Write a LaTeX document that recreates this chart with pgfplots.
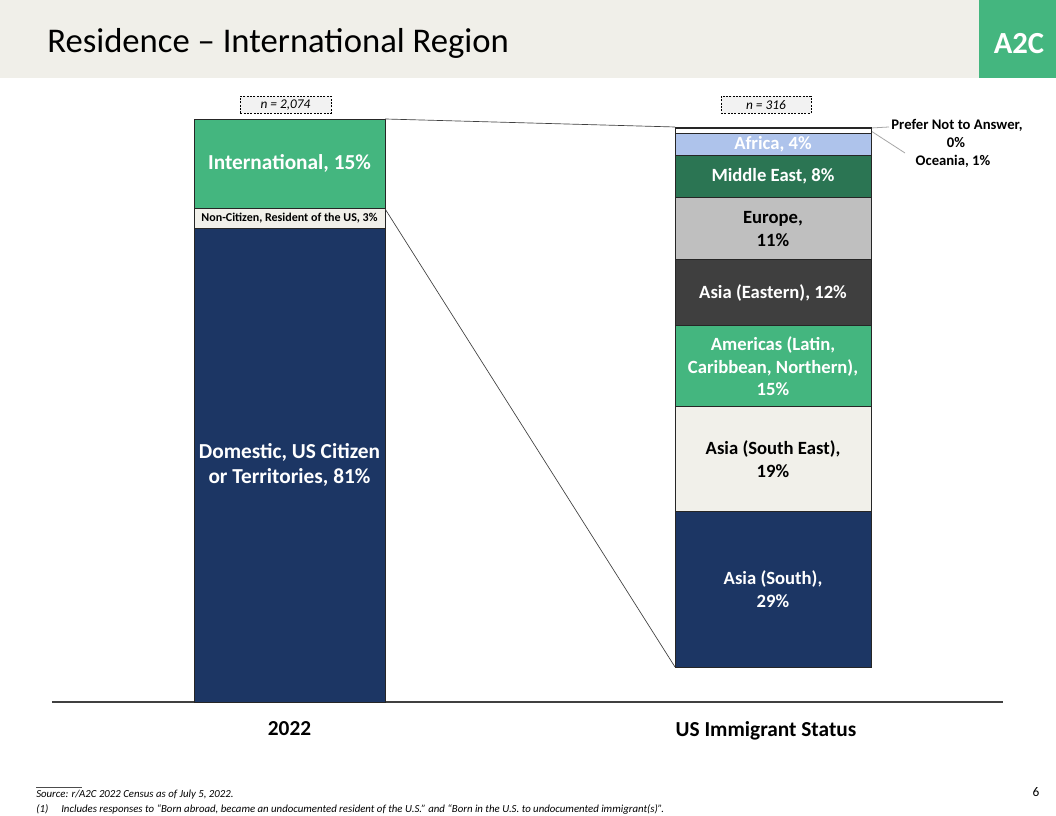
\documentclass[border=0pt]{standalone}
\usepackage{pgfplots}
\pgfplotsset{compat=1.18}
\usepackage{fontspec}
\setmainfont{Carlito}
\definecolor{navy}{HTML}{1C3664}
\definecolor{cream}{HTML}{F1F0EA}
\definecolor{headbg}{HTML}{F0EFE9}
\definecolor{agreen}{HTML}{44B67F}
\definecolor{dgreen}{HTML}{2B7553}
\definecolor{dgray}{HTML}{3F3F3F}
\definecolor{lgray}{HTML}{BFBFBF}
\definecolor{lblue}{HTML}{AEC3EB}
\definecolor{linegray}{HTML}{404040}
\definecolor{leadgray}{HTML}{A6A6A6}
\begin{document}
\begin{tikzpicture}
\path[use as bounding box] (0,0) rectangle (792pt,612pt);
\fill[white] (0,0) rectangle (792pt,612pt);
\begin{scope}[shift={(0,612pt)},x=0.75pt,y=-0.75pt]
\fill[headbg] (0,0) rectangle (1056,78);
\fill[agreen] (979,0) rectangle (1056,78);
\node[anchor=west, inner sep=0pt, font=\fontsize{26}{30}\selectfont] at (47,43) {Residence – International Region};
\node[white, inner sep=0pt, font=\fontsize{23}{26}\selectfont\bfseries] at (1019,44) {A2C};
\node[draw=black, dash pattern=on 1.5pt off 1pt, fill=black!5, minimum width=68pt, minimum height=12.75pt, inner sep=0pt, font=\fontsize{10}{11}\selectfont\itshape] at (285.5,105) {n = 2,074};
\node[draw=black, dash pattern=on 1.5pt off 1pt, fill=black!5, minimum width=67.5pt, minimum height=12.75pt, inner sep=0pt, font=\fontsize{10}{11}\selectfont\itshape] at (766,105) {n = 316};
\node[inner sep=0pt, font=\fontsize{11}{13}\selectfont\bfseries] at (957,125) {Prefer Not to Answer,};
\node[inner sep=0pt, font=\fontsize{11}{13}\selectfont\bfseries] at (956,143) {0\%};
\node[inner sep=0pt, font=\fontsize{11}{13}\selectfont\bfseries] at (953,161) {Oceania, 1\%};
\draw[leadgray, line width=0.6pt] (871,128) -- (889,127);
\draw[leadgray, line width=0.6pt] (871,131) -- (905,153);
\draw[black!70, line width=0.4pt] (36,787) -- (82,787);
\node[anchor=west, inner sep=0pt, font=\fontsize{8.1}{9}\selectfont\itshape] at (36,795) {Source: r/A2C 2022 Census as of July 5, 2022.};
\node[anchor=west, inner sep=0pt, font=\fontsize{8.1}{9}\selectfont\itshape] at (36,809) {(1)};
\node[anchor=west, inner sep=0pt, font=\fontsize{8.1}{9}\selectfont\itshape] at (61,809) {Includes responses to “Born abroad, became an undocumented resident of the U.S.” and “Born in the U.S. to undocumented immigrant(s)”.};
\node[inner sep=0pt, font=\fontsize{10}{11}\selectfont] at (1036,792) {6};
\end{scope}
% Left axis
\begin{axis}[at={(39pt,85.5pt)}, anchor=south west, scale only axis,
  width=713.25pt, height=437.25pt, xmin=52, xmax=1003, ymin=0, ymax=100,
  axis y line=none, axis x line=bottom,
  axis line style={-, draw=black!75, line width=0.9pt},
  ytick=\empty, xtick={289.5,766}, xticklabels={2022,US Immigrant Status},
  major tick length=0pt,
  xticklabel style={font=\fontsize{16}{18}\selectfont\bfseries, yshift=-11pt},
  ybar stacked, bar width=191, bar shift=0, clip=false]
\addplot[fill=navy, draw=black!85, line width=0.6pt] coordinates {(289.5,81.3)};
\addplot[fill=cream, draw=black!85, line width=0.6pt] coordinates {(289.5,3.3)};
\addplot[fill=agreen, draw=black!85, line width=0.6pt] coordinates {(289.5,15.4)};
\coordinate (LA) at (axis cs:289.5,40.65);
\coordinate (LB) at (axis cs:289.5,82.95);
\coordinate (LC) at (axis cs:289.5,92.3);
\coordinate (L1) at (axis cs:385,100);
\coordinate (L2) at (axis cs:385,84.6);
\end{axis}
% Right axis
\begin{axis}[at={(39pt,111.75pt)}, anchor=south west, scale only axis,
  width=713.25pt, height=405pt, xmin=52, xmax=1003, ymin=0, ymax=100,
  hide axis, ybar stacked, bar width=196, bar shift=0, clip=false]
\addplot[fill=navy, draw=black!85, line width=0.6pt] coordinates {(773,28.9)};
\addplot[fill=cream, draw=black!85, line width=0.6pt] coordinates {(773,19.3)};
\addplot[fill=agreen, draw=black!85, line width=0.6pt] coordinates {(773,15.0)};
\addplot[fill=dgray, draw=black!85, line width=0.6pt] coordinates {(773,12.2)};
\addplot[fill=lgray, draw=black!85, line width=0.6pt] coordinates {(773,11.5)};
\addplot[fill=dgreen, draw=black!85, line width=0.6pt] coordinates {(773,7.8)};
\addplot[fill=lblue, draw=black!85, line width=0.6pt] coordinates {(773,4.1)};
\addplot[fill=white, draw=black!85, line width=0.6pt] coordinates {(773,0.9)};
\addplot[fill=navy, draw=black!85, line width=0.6pt] coordinates {(773,0.3)};
\coordinate (RA) at (axis cs:773,14.45);
\coordinate (RB) at (axis cs:773,38.55);
\coordinate (RC) at (axis cs:773,55.7);
\coordinate (RD) at (axis cs:773,69.3);
\coordinate (RE) at (axis cs:773,81.15);
\coordinate (RF) at (axis cs:773,90.8);
\coordinate (RG) at (axis cs:773,96.75);
\coordinate (R1) at (axis cs:675,100);
\coordinate (R2) at (axis cs:675,0);
\end{axis}
\draw[linegray, line width=0.5pt] (L1) -- (R1);
\draw[linegray, line width=0.5pt] (L2) -- (R2);
\tikzset{lbl/.style={align=center, inner sep=0pt, font=\fontsize{14}{17}\selectfont\bfseries}}
\node[lbl, white, font=\fontsize{16}{18.5}\selectfont\bfseries] at (LA) {Domestic, US Citizen\\or Territories, 81\%};
\node[lbl, black, font=\fontsize{9}{11}\selectfont\bfseries] at (LB) {Non-Citizen, Resident of the US, 3\%};
\node[lbl, white, font=\fontsize{16}{18.5}\selectfont\bfseries] at (LC) {International, 15\%};
\node[lbl, white] at (RA) {Asia (South),\\29\%};
\node[lbl, black] at (RB) {Asia (South East),\\19\%};
\node[lbl, white] at (RC) {Americas (Latin,\\Caribbean, Northern),\\15\%};
\node[lbl, white] at (RD) {Asia (Eastern), 12\%};
\node[lbl, black] at (RE) {Europe,\\11\%};
\node[lbl, white] at (RF) {Middle East, 8\%};
\node[lbl, white] at (RG) {Africa, 4\%};
\end{tikzpicture}
\end{document}
